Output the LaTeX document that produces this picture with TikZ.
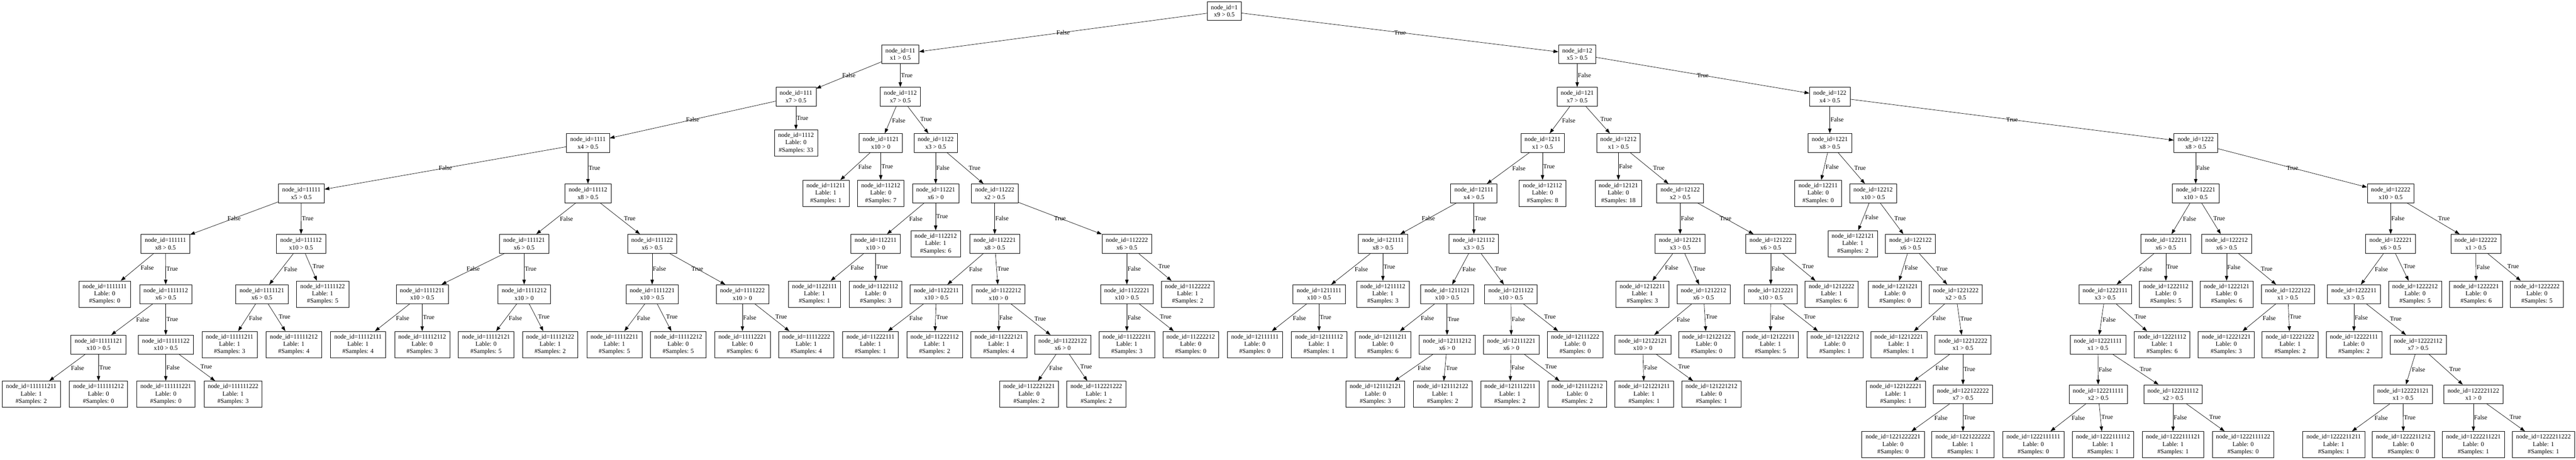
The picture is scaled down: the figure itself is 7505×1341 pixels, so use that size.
\documentclass[tikz,border=0pt]{standalone}
\usepackage{fontspec}
\setmainfont{Liberation Serif}
\usetikzlibrary{arrows.meta}

\begin{document}
\begin{tikzpicture}[x=1pt, y=-1pt,
  every node/.style={font=\fontsize{18.2}{21.7}\selectfont},
  cond/.style={draw, rectangle, align=center, line width=1pt, inner xsep=11pt, inner ysep=2pt, minimum height=55pt},
  leaf/.style={cond, minimum height=77pt},
  branch/.style={line width=1pt, arrows={-Stealth[inset=0pt, length=14pt, width=10pt]}},
  lab/.style={inner sep=1.5pt},
  lblleft/.style={lab, pos=0.42, anchor=north west},
  lblright/.style={lab, pos=0.58, anchor=south west},
  lbldown/.style={lab, midway, anchor=west}]
\useasboundingbox (0,0) rectangle (7505,1341);

% rank 0
\node (1) [cond] at (3567,32) {node\_id=1\\x9 > 0.5};
% rank 1
\node (11) [cond] at (2623,158) {node\_id=11\\x1 > 0.5};
\node (12) [cond] at (4595,158) {node\_id=12\\x5 > 0.5};
% rank 2
\node (111) [cond] at (2319,282) {node\_id=111\\x7 > 0.5};
\node (112) [cond] at (2623,282) {node\_id=112\\x7 > 0.5};
\node (121) [cond] at (4595,282) {node\_id=121\\x7 > 0.5};
\node (122) [cond] at (5331,282) {node\_id=122\\x4 > 0.5};
% rank 3
\node (1111) [cond] at (1713,417) {node\_id=1111\\x4 > 0.5};
\node (1112) [leaf] at (2319,417) {node\_id=1112\\Lable: 0\\\#Samples: 33};
\node (1121) [cond] at (2566,417) {node\_id=1121\\x10 > 0};
\node (1122) [cond] at (2726,417) {node\_id=1122\\x3 > 0.5};
\node (1211) [cond] at (4494,417) {node\_id=1211\\x1 > 0.5};
\node (1212) [cond] at (4715,417) {node\_id=1212\\x1 > 0.5};
\node (1221) [cond] at (5331,417) {node\_id=1221\\x8 > 0.5};
\node (1222) [cond] at (6397,417) {node\_id=1222\\x8 > 0.5};
% rank 4
\node (11111) [cond] at (878,564) {node\_id=11111\\x5 > 0.5};
\node (11112) [cond] at (1713,564) {node\_id=11112\\x8 > 0.5};
\node (11211) [leaf] at (2406,564) {node\_id=11211\\Lable: 1\\\#Samples: 1};
\node (11212) [leaf] at (2566,564) {node\_id=11212\\Lable: 0\\\#Samples: 7};
\node (11221) [cond] at (2726,564) {node\_id=11221\\x6 > 0};
\node (11222) [cond] at (2898,564) {node\_id=11222\\x2 > 0.5};
\node (12111) [cond] at (4294,564) {node\_id=12111\\x4 > 0.5};
\node (12112) [leaf] at (4494,564) {node\_id=12112\\Lable: 0\\\#Samples: 8};
\node (12121) [leaf] at (4715,564) {node\_id=12121\\Lable: 0\\\#Samples: 18};
\node (12122) [cond] at (4895,564) {node\_id=12122\\x2 > 0.5};
\node (12211) [leaf] at (5297,564) {node\_id=12211\\Lable: 0\\\#Samples: 0};
\node (12212) [cond] at (5457,564) {node\_id=12212\\x10 > 0.5};
\node (12221) [cond] at (6397,564) {node\_id=12221\\x10 > 0.5};
\node (12222) [cond] at (6965,564) {node\_id=12222\\x10 > 0.5};
% rank 5
\node (111111) [cond] at (482,711) {node\_id=111111\\x8 > 0.5};
\node (111112) [cond] at (877,711) {node\_id=111112\\x10 > 0.5};
\node (111121) [cond] at (1527,711) {node\_id=111121\\x6 > 0.5};
\node (111122) [cond] at (1900,711) {node\_id=111122\\x6 > 0.5};
\node (112211) [cond] at (2551,711) {node\_id=112211\\x10 > 0};
\node (112212) [leaf] at (2726,711) {node\_id=112212\\Lable: 1\\\#Samples: 6};
\node (112221) [cond] at (2898,711) {node\_id=112221\\x8 > 0.5};
\node (112222) [cond] at (3283,711) {node\_id=112222\\x6 > 0.5};
\node (121111) [cond] at (4029,711) {node\_id=121111\\x8 > 0.5};
\node (121112) [cond] at (4294,711) {node\_id=121112\\x3 > 0.5};
\node (121221) [cond] at (4895,711) {node\_id=121221\\x3 > 0.5};
\node (121222) [cond] at (5159,711) {node\_id=121222\\x6 > 0.5};
\node (122121) [leaf] at (5398,711) {node\_id=122121\\Lable: 1\\\#Samples: 2};
\node (122122) [cond] at (5566,711) {node\_id=122122\\x6 > 0.5};
\node (122211) [cond] at (6310,711) {node\_id=122211\\x6 > 0.5};
\node (122212) [cond] at (6487,711) {node\_id=122212\\x6 > 0.5};
\node (122221) [cond] at (6965,711) {node\_id=122221\\x6 > 0.5};
\node (122222) [cond] at (7213,711) {node\_id=122222\\x1 > 0.5};
% rank 6
\node (1111111) [leaf] at (305,858) {node\_id=1111111\\Lable: 0\\\#Samples: 0};
\node (1111112) [cond] at (483,858) {node\_id=1111112\\x6 > 0.5};
\node (1111121) [cond] at (763,858) {node\_id=1111121\\x6 > 0.5};
\node (1111122) [leaf] at (940,858) {node\_id=1111122\\Lable: 1\\\#Samples: 5};
\node (1111211) [cond] at (1230,858) {node\_id=1111211\\x10 > 0.5};
\node (1111212) [cond] at (1527,858) {node\_id=1111212\\x10 > 0};
\node (1111221) [cond] at (1900,858) {node\_id=1111221\\x10 > 0.5};
\node (1111222) [cond] at (2163,858) {node\_id=1111222\\x10 > 0};
\node (1122111) [leaf] at (2373,858) {node\_id=1122111\\Lable: 1\\\#Samples: 1};
\node (1122112) [leaf] at (2551,858) {node\_id=1122112\\Lable: 0\\\#Samples: 3};
\node (1122211) [cond] at (2728,858) {node\_id=1122211\\x10 > 0.5};
\node (1122212) [cond] at (2909,858) {node\_id=1122212\\x10 > 0};
\node (1122221) [cond] at (3283,858) {node\_id=1122221\\x10 > 0.5};
\node (1122222) [leaf] at (3460,858) {node\_id=1122222\\Lable: 1\\\#Samples: 2};
\node (1211111) [cond] at (3843,858) {node\_id=1211111\\x10 > 0.5};
\node (1211112) [leaf] at (4029,858) {node\_id=1211112\\Lable: 1\\\#Samples: 3};
\node (1211121) [cond] at (4216,858) {node\_id=1211121\\x10 > 0.5};
\node (1211122) [cond] at (4402,858) {node\_id=1211122\\x10 > 0.5};
\node (1212211) [leaf] at (4785,858) {node\_id=1212211\\Lable: 1\\\#Samples: 3};
\node (1212212) [cond] at (4963,858) {node\_id=1212212\\x6 > 0.5};
\node (1212221) [cond] at (5159,858) {node\_id=1212221\\x10 > 0.5};
\node (1212222) [leaf] at (5336,858) {node\_id=1212222\\Lable: 1\\\#Samples: 6};
\node (1221221) [leaf] at (5521,858) {node\_id=1221221\\Lable: 0\\\#Samples: 0};
\node (1221222) [cond] at (5698,858) {node\_id=1221222\\x2 > 0.5};
\node (1222111) [cond] at (6133,858) {node\_id=1222111\\x3 > 0.5};
\node (1222112) [leaf] at (6310,858) {node\_id=1222112\\Lable: 0\\\#Samples: 5};
\node (1222121) [leaf] at (6487,858) {node\_id=1222121\\Lable: 0\\\#Samples: 6};
\node (1222122) [cond] at (6665,858) {node\_id=1222122\\x1 > 0.5};
\node (1222211) [cond] at (6858,858) {node\_id=1222211\\x3 > 0.5};
\node (1222212) [leaf] at (7036,858) {node\_id=1222212\\Lable: 0\\\#Samples: 5};
\node (1222221) [leaf] at (7214,858) {node\_id=1222221\\Lable: 0\\\#Samples: 6};
\node (1222222) [leaf] at (7391,858) {node\_id=1222222\\Lable: 0\\\#Samples: 5};
% rank 7
\node (11111121) [cond] at (287,1005) {node\_id=11111121\\x10 > 0.5};
\node (11111122) [cond] at (483,1005) {node\_id=11111122\\x10 > 0.5};
\node (11111211) [leaf] at (669,1005) {node\_id=11111211\\Lable: 1\\\#Samples: 3};
\node (11111212) [leaf] at (856,1005) {node\_id=11111212\\Lable: 1\\\#Samples: 4};
\node (11112111) [leaf] at (1043,1005) {node\_id=11112111\\Lable: 1\\\#Samples: 4};
\node (11112112) [leaf] at (1230,1005) {node\_id=11112112\\Lable: 0\\\#Samples: 3};
\node (11112121) [leaf] at (1416,1005) {node\_id=11112121\\Lable: 0\\\#Samples: 5};
\node (11112122) [leaf] at (1603,1005) {node\_id=11112122\\Lable: 1\\\#Samples: 2};
\node (11112211) [leaf] at (1790,1005) {node\_id=11112211\\Lable: 1\\\#Samples: 5};
\node (11112212) [leaf] at (1976,1005) {node\_id=11112212\\Lable: 0\\\#Samples: 5};
\node (11112221) [leaf] at (2163,1005) {node\_id=11112221\\Lable: 0\\\#Samples: 6};
\node (11112222) [leaf] at (2349,1005) {node\_id=11112222\\Lable: 1\\\#Samples: 4};
\node (11222111) [leaf] at (2536,1005) {node\_id=11222111\\Lable: 1\\\#Samples: 1};
\node (11222112) [leaf] at (2723,1005) {node\_id=11222112\\Lable: 1\\\#Samples: 2};
\node (11222121) [leaf] at (2910,1005) {node\_id=11222121\\Lable: 1\\\#Samples: 4};
\node (11222122) [cond] at (3096,1005) {node\_id=11222122\\x6 > 0};
\node (11222211) [leaf] at (3283,1005) {node\_id=11222211\\Lable: 1\\\#Samples: 3};
\node (11222212) [leaf] at (3469,1005) {node\_id=11222212\\Lable: 0\\\#Samples: 0};
\node (12111111) [leaf] at (3656,1005) {node\_id=12111111\\Lable: 0\\\#Samples: 0};
\node (12111112) [leaf] at (3843,1005) {node\_id=12111112\\Lable: 1\\\#Samples: 1};
\node (12111211) [leaf] at (4029,1005) {node\_id=12111211\\Lable: 0\\\#Samples: 6};
\node (12111212) [cond] at (4216,1005) {node\_id=12111212\\x6 > 0};
\node (12111221) [cond] at (4403,1005) {node\_id=12111221\\x6 > 0};
\node (12111222) [leaf] at (4589,1005) {node\_id=12111222\\Lable: 0\\\#Samples: 0};
\node (12122121) [cond] at (4786,1005) {node\_id=12122121\\x10 > 0};
\node (12122122) [leaf] at (4972,1005) {node\_id=12122122\\Lable: 0\\\#Samples: 0};
\node (12122211) [leaf] at (5158,1005) {node\_id=12122211\\Lable: 1\\\#Samples: 5};
\node (12122212) [leaf] at (5346,1005) {node\_id=12122212\\Lable: 0\\\#Samples: 1};
\node (12212221) [leaf] at (5532,1005) {node\_id=12212221\\Lable: 1\\\#Samples: 1};
\node (12212222) [cond] at (5719,1005) {node\_id=12212222\\x1 > 0.5};
\node (12221111) [cond] at (6112,1005) {node\_id=12221111\\x1 > 0.5};
\node (12221112) [leaf] at (6299,1005) {node\_id=12221112\\Lable: 1\\\#Samples: 6};
\node (12221221) [leaf] at (6486,1005) {node\_id=12221221\\Lable: 0\\\#Samples: 3};
\node (12221222) [leaf] at (6672,1005) {node\_id=12221222\\Lable: 1\\\#Samples: 2};
\node (12222111) [leaf] at (6858,1005) {node\_id=12222111\\Lable: 0\\\#Samples: 2};
\node (12222112) [cond] at (7045,1005) {node\_id=12222112\\x7 > 0.5};
% rank 8
\node (111111211) [leaf] at (91,1150) {node\_id=111111211\\Lable: 1\\\#Samples: 2};
\node (111111212) [leaf] at (287,1150) {node\_id=111111212\\Lable: 0\\\#Samples: 0};
\node (111111221) [leaf] at (483,1150) {node\_id=111111221\\Lable: 0\\\#Samples: 0};
\node (111111222) [leaf] at (679,1150) {node\_id=111111222\\Lable: 1\\\#Samples: 3};
\node (112221221) [leaf] at (2998,1150) {node\_id=112221221\\Lable: 0\\\#Samples: 2};
\node (112221222) [leaf] at (3194,1150) {node\_id=112221222\\Lable: 1\\\#Samples: 2};
\node (121112121) [leaf] at (4007,1150) {node\_id=121112121\\Lable: 0\\\#Samples: 3};
\node (121112122) [leaf] at (4203,1150) {node\_id=121112122\\Lable: 1\\\#Samples: 2};
\node (121112211) [leaf] at (4399,1150) {node\_id=121112211\\Lable: 1\\\#Samples: 2};
\node (121112212) [leaf] at (4595,1150) {node\_id=121112212\\Lable: 0\\\#Samples: 2};
\node (121221211) [leaf] at (4790,1150) {node\_id=121221211\\Lable: 1\\\#Samples: 1};
\node (121221212) [leaf] at (4986,1150) {node\_id=121221212\\Lable: 0\\\#Samples: 1};
\node (122122221) [leaf] at (5523,1150) {node\_id=122122221\\Lable: 1\\\#Samples: 1};
\node (122122222) [cond] at (5719,1150) {node\_id=122122222\\x7 > 0.5};
\node (122211111) [cond] at (6113,1150) {node\_id=122211111\\x2 > 0.5};
\node (122211112) [cond] at (6331,1150) {node\_id=122211112\\x2 > 0.5};
\node (122221121) [cond] at (7001,1150) {node\_id=122221121\\x1 > 0.5};
\node (122221122) [cond] at (7206,1150) {node\_id=122221122\\x1 > 0};
% rank 9
\node (1221222221) [leaf] at (5515,1297) {node\_id=1221222221\\Lable: 0\\\#Samples: 0};
\node (1221222222) [leaf] at (5719,1297) {node\_id=1221222222\\Lable: 1\\\#Samples: 1};
\node (1222111111) [leaf] at (5924,1297) {node\_id=1222111111\\Lable: 0\\\#Samples: 0};
\node (1222111112) [leaf] at (6127,1297) {node\_id=1222111112\\Lable: 1\\\#Samples: 1};
\node (1222111121) [leaf] at (6331,1297) {node\_id=1222111121\\Lable: 1\\\#Samples: 1};
\node (1222111122) [leaf] at (6535,1297) {node\_id=1222111122\\Lable: 0\\\#Samples: 0};
\node (1222211211) [leaf] at (6799,1297) {node\_id=1222211211\\Lable: 1\\\#Samples: 1};
\node (1222211212) [leaf] at (7002,1297) {node\_id=1222211212\\Lable: 0\\\#Samples: 0};
\node (1222211221) [leaf] at (7206,1297) {node\_id=1222211221\\Lable: 0\\\#Samples: 1};
\node (1222211222) [leaf] at (7410,1297) {node\_id=1222211222\\Lable: 1\\\#Samples: 1};

% branches
\draw[branch] (1) -- node[lab, at={(3199,94)}] {False} (11);
\draw[branch] (1) -- node[lab, at={(4190,94)}] {True} (12);
\draw[branch] (11) -- node[lab, at={(2517,220)}] {False} (111);
\draw[branch] (11) -- node[lbldown] {True} (112);
\draw[branch] (12) -- node[lbldown] {False} (121);
\draw[branch] (12) -- node[lab, at={(5046,220)}] {True} (122);
\draw[branch] (111) -- node[lab, at={(2106,345)}] {False} (1111);
\draw[branch] (111) -- node[lbldown] {True} (1112);
\draw[branch] (112) -- node[lblleft] {False} (1121);
\draw[branch] (112) -- node[lblright] {True} (1122);
\draw[branch] (121) -- node[lblleft] {False} (1211);
\draw[branch] (121) -- node[lblright] {True} (1212);
\draw[branch] (122) -- node[lbldown] {False} (1221);
\draw[branch] (122) -- node[lab, at={(5912,345)}] {True} (1222);
\draw[branch] (1111) -- node[lab, at={(1364,491)}] {False} (11111);
\draw[branch] (1111) -- node[lbldown] {True} (11112);
\draw[branch] (1121) -- node[lblleft] {False} (11211);
\draw[branch] (1121) -- node[lbldown] {True} (11212);
\draw[branch] (1122) -- node[lbldown] {False} (11221);
\draw[branch] (1122) -- node[lblright] {True} (11222);
\draw[branch] (1211) -- node[lblleft] {False} (12111);
\draw[branch] (1211) -- node[lbldown] {True} (12112);
\draw[branch] (1212) -- node[lbldown] {False} (12121);
\draw[branch] (1212) -- node[lblright] {True} (12122);
\draw[branch] (1221) -- node[lblleft] {False} (12211);
\draw[branch] (1221) -- node[lblright] {True} (12212);
\draw[branch] (1222) -- node[lbldown] {False} (12221);
\draw[branch] (1222) -- node[lab, at={(6732,491)}] {True} (12222);
\draw[branch] (11111) -- node[lab, at={(722,638)}] {False} (111111);
\draw[branch] (11111) -- node[lbldown] {True} (111112);
\draw[branch] (11112) -- node[lblleft] {False} (111121);
\draw[branch] (11112) -- node[lblright] {True} (111122);
\draw[branch] (11221) -- node[lblleft] {False} (112211);
\draw[branch] (11221) -- node[lbldown] {True} (112212);
\draw[branch] (11222) -- node[lbldown] {False} (112221);
\draw[branch] (11222) -- node[lab, at={(3130,638)}] {True} (112222);
\draw[branch] (12111) -- node[lab, at={(4197,638)}] {False} (121111);
\draw[branch] (12111) -- node[lbldown] {True} (121112);
\draw[branch] (12122) -- node[lbldown] {False} (121221);
\draw[branch] (12122) -- node[lab, at={(5059,638)}] {True} (121222);
\draw[branch] (12212) -- node[lblleft] {False} (122121);
\draw[branch] (12212) -- node[lblright] {True} (122122);
\draw[branch] (12221) -- node[lblleft] {False} (122211);
\draw[branch] (12221) -- node[lblright] {True} (122212);
\draw[branch] (12222) -- node[lbldown] {False} (122221);
\draw[branch] (12222) -- node[lblright] {True} (122222);
\draw[branch] (111111) -- node[lblleft] {False} (1111111);
\draw[branch] (111111) -- node[lbldown] {True} (1111112);
\draw[branch] (111112) -- node[lblleft] {False} (1111121);
\draw[branch] (111112) -- node[lblright] {True} (1111122);
\draw[branch] (111121) -- node[lab, at={(1415,785)}] {False} (1111211);
\draw[branch] (111121) -- node[lbldown] {True} (1111212);
\draw[branch] (111122) -- node[lbldown] {False} (1111221);
\draw[branch] (111122) -- node[lab, at={(2064,785)}] {True} (1111222);
\draw[branch] (112211) -- node[lblleft] {False} (1122111);
\draw[branch] (112211) -- node[lbldown] {True} (1122112);
\draw[branch] (112221) -- node[lblleft] {False} (1122211);
\draw[branch] (112221) -- node[lblright] {True} (1122212);
\draw[branch] (112222) -- node[lbldown] {False} (1122221);
\draw[branch] (112222) -- node[lblright] {True} (1122222);
\draw[branch] (121111) -- node[lblleft] {False} (1211111);
\draw[branch] (121111) -- node[lbldown] {True} (1211112);
\draw[branch] (121112) -- node[lblleft] {False} (1211121);
\draw[branch] (121112) -- node[lblright] {True} (1211122);
\draw[branch] (121221) -- node[lblleft] {False} (1212211);
\draw[branch] (121221) -- node[lblright] {True} (1212212);
\draw[branch] (121222) -- node[lbldown] {False} (1212221);
\draw[branch] (121222) -- node[lblright] {True} (1212222);
\draw[branch] (122122) -- node[lblleft] {False} (1221221);
\draw[branch] (122122) -- node[lblright] {True} (1221222);
\draw[branch] (122211) -- node[lblleft] {False} (1222111);
\draw[branch] (122211) -- node[lbldown] {True} (1222112);
\draw[branch] (122212) -- node[lbldown] {False} (1222121);
\draw[branch] (122212) -- node[lblright] {True} (1222122);
\draw[branch] (122221) -- node[lblleft] {False} (1222211);
\draw[branch] (122221) -- node[lblright] {True} (1222212);
\draw[branch] (122222) -- node[lbldown] {False} (1222221);
\draw[branch] (122222) -- node[lblright] {True} (1222222);
\draw[branch] (1111112) -- node[lblleft] {False} (11111121);
\draw[branch] (1111112) -- node[lbldown] {True} (11111122);
\draw[branch] (1111121) -- node[lblleft] {False} (11111211);
\draw[branch] (1111121) -- node[lblright] {True} (11111212);
\draw[branch] (1111211) -- node[lblleft] {False} (11112111);
\draw[branch] (1111211) -- node[lbldown] {True} (11112112);
\draw[branch] (1111212) -- node[lblleft] {False} (11112121);
\draw[branch] (1111212) -- node[lblright] {True} (11112122);
\draw[branch] (1111221) -- node[lblleft] {False} (11112211);
\draw[branch] (1111221) -- node[lblright] {True} (11112212);
\draw[branch] (1111222) -- node[lbldown] {False} (11112221);
\draw[branch] (1111222) -- node[lblright] {True} (11112222);
\draw[branch] (1122211) -- node[lblleft] {False} (11222111);
\draw[branch] (1122211) -- node[lbldown] {True} (11222112);
\draw[branch] (1122212) -- node[lbldown] {False} (11222121);
\draw[branch] (1122212) -- node[lblright] {True} (11222122);
\draw[branch] (1122221) -- node[lbldown] {False} (11222211);
\draw[branch] (1122221) -- node[lblright] {True} (11222212);
\draw[branch] (1211111) -- node[lblleft] {False} (12111111);
\draw[branch] (1211111) -- node[lbldown] {True} (12111112);
\draw[branch] (1211121) -- node[lblleft] {False} (12111211);
\draw[branch] (1211121) -- node[lbldown] {True} (12111212);
\draw[branch] (1211122) -- node[lbldown] {False} (12111221);
\draw[branch] (1211122) -- node[lblright] {True} (12111222);
\draw[branch] (1212212) -- node[lblleft] {False} (12122121);
\draw[branch] (1212212) -- node[lblright] {True} (12122122);
\draw[branch] (1212221) -- node[lbldown] {False} (12122211);
\draw[branch] (1212221) -- node[lblright] {True} (12122212);
\draw[branch] (1221222) -- node[lblleft] {False} (12212221);
\draw[branch] (1221222) -- node[lblright] {True} (12212222);
\draw[branch] (1222111) -- node[lblleft] {False} (12221111);
\draw[branch] (1222111) -- node[lblright] {True} (12221112);
\draw[branch] (1222122) -- node[lblleft] {False} (12221221);
\draw[branch] (1222122) -- node[lblright] {True} (12221222);
\draw[branch] (1222211) -- node[lbldown] {False} (12222111);
\draw[branch] (1222211) -- node[lblright] {True} (12222112);
\draw[branch] (11222122) -- node[lblleft] {False} (112221221);
\draw[branch] (11222122) -- node[lblright] {True} (112221222);
\draw[branch] (12111212) -- node[lblleft] {False} (121112121);
\draw[branch] (12111212) -- node[lblleft] {True} (121112122);
\draw[branch] (12111221) -- node[lbldown] {False} (121112211);
\draw[branch] (12111221) -- node[lblright] {True} (121112212);
\draw[branch] (12122121) -- node[lbldown] {False} (121221211);
\draw[branch] (12122121) -- node[lblright] {True} (121221212);
\draw[branch] (12212222) -- node[lblleft] {False} (122122221);
\draw[branch] (12212222) -- node[lbldown] {True} (122122222);
\draw[branch] (12221111) -- node[lbldown] {False} (122211111);
\draw[branch] (12221111) -- node[lblright] {True} (122211112);
\draw[branch] (12222112) -- node[lblleft] {False} (122221121);
\draw[branch] (12222112) -- node[lblright] {True} (122221122);
\draw[branch] (11111121) -- node[lblleft] {False} (111111211);
\draw[branch] (11111121) -- node[lbldown] {True} (111111212);
\draw[branch] (11111122) -- node[lbldown] {False} (111111221);
\draw[branch] (11111122) -- node[lblright] {True} (111111222);
\draw[branch] (122122222) -- node[lblleft] {False} (1221222221);
\draw[branch] (122122222) -- node[lbldown] {True} (1221222222);
\draw[branch] (122211111) -- node[lblleft] {False} (1222111111);
\draw[branch] (122211111) -- node[lblright] {True} (1222111112);
\draw[branch] (122211112) -- node[lbldown] {False} (1222111121);
\draw[branch] (122211112) -- node[lblright] {True} (1222111122);
\draw[branch] (122221121) -- node[lblleft] {False} (1222211211);
\draw[branch] (122221121) -- node[lbldown] {True} (1222211212);
\draw[branch] (122221122) -- node[lbldown] {False} (1222211221);
\draw[branch] (122221122) -- node[lblright] {True} (1222211222);
\end{tikzpicture}
\end{document}
